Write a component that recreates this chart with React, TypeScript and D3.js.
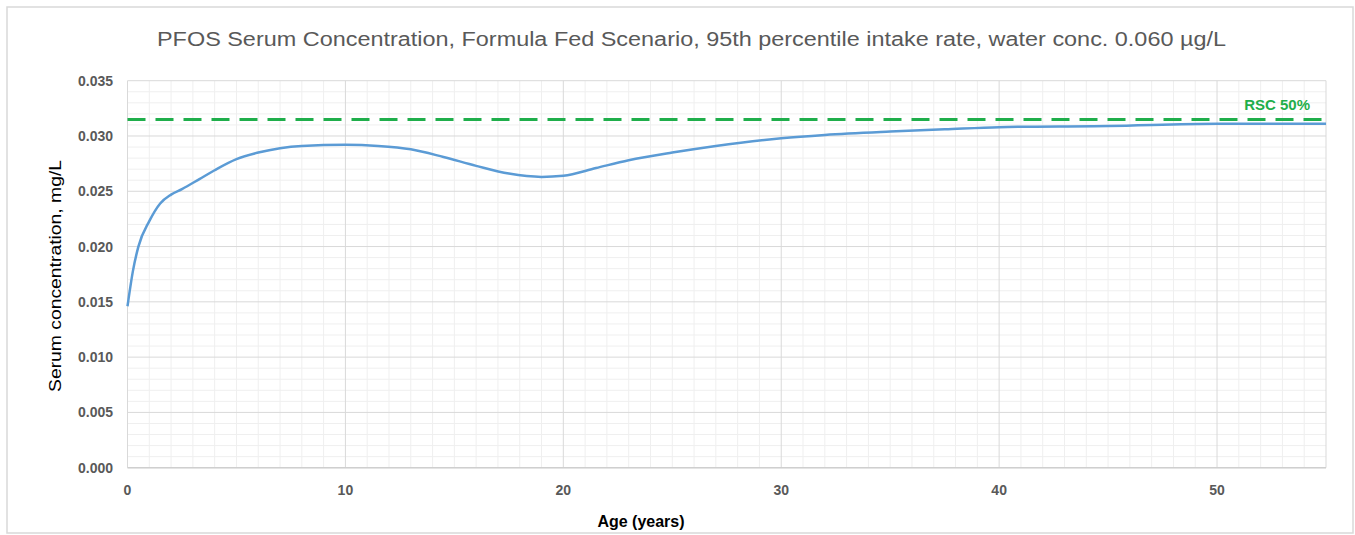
import React, { Component } from 'react';
import * as d3 from 'd3';

// serum curve (age in years, mg/L)
const ages = [0, 0.25, 0.5, 1, 1.5, 2, 2.5, 3.3, 4, 5, 6, 7, 8, 10, 11.5, 13, 14.5, 16, 17.5, 19, 20, 21.5, 23, 25, 27, 30, 32, 35, 37.5, 40, 45, 50, 55];
const serumValues = [0.0146, 0.0178, 0.0200, 0.0223, 0.0239, 0.0247, 0.0252, 0.0261, 0.0269, 0.0279, 0.0285, 0.0289, 0.0291, 0.0292, 0.0291, 0.0288, 0.0281, 0.0273, 0.0266, 0.0263, 0.0264, 0.0271, 0.0278, 0.0285, 0.0291, 0.0298, 0.0301, 0.0304, 0.0306, 0.0308, 0.0309, 0.0311, 0.0311];

const xTicks = [0, 10, 20, 30, 40, 50];
const yTicks = [0, 0.005, 0.01, 0.015, 0.02, 0.025, 0.03, 0.035];
const rscLevel = 0.0315;
const rscLabel = 'RSC 50%';

const titleText = 'PFOS Serum Concentration, Formula Fed Scenario, 95th percentile intake rate, water conc. 0.060 \u00b5g/L';

class App extends Component {
  svgRef = React.createRef<SVGSVGElement>();

  componentDidMount() {
    this.draw();
  }

  draw = () => {
    const width = 1355, height = 535;
    const svg = d3.select(this.svgRef.current);
    svg.selectAll('*').remove();

    const x = d3.scaleLinear().domain([0, 55]).range([127.5, 1326]);
    const y = d3.scaleLinear().domain([0, 0.035]).range([467.7, 80.7]);

    const font = '"Liberation Sans", Arial, sans-serif';

    svg.append('rect').attr('width', width).attr('height', height).attr('fill', '#fff');
    svg.append('rect')
      .attr('x', 7).attr('y', 7).attr('width', 1346).attr('height', 526)
      .attr('fill', 'none').attr('stroke', '#d9d9d9').attr('stroke-width', 1.5);

    // minor grid
    const minorX = d3.range(1, 55).filter((d) => d % 10 !== 0);
    const minorY = d3.range(1, 35).filter((d) => d % 5 !== 0).map((d) => d / 1000);
    const grid = svg.append('g');
    grid.selectAll('line.mx').data(minorX).enter().append('line')
      .attr('x1', (d) => x(d)).attr('x2', (d) => x(d))
      .attr('y1', y(0)).attr('y2', y(0.035))
      .attr('stroke', '#efefef').attr('stroke-width', 1);
    grid.selectAll('line.my').data(minorY).enter().append('line')
      .attr('x1', x(0)).attr('x2', x(55))
      .attr('y1', (d) => y(d)).attr('y2', (d) => y(d))
      .attr('stroke', '#efefef').attr('stroke-width', 1);

    // major grid
    grid.selectAll('line.MX').data(xTicks.concat([55])).enter().append('line')
      .attr('x1', (d) => x(d)).attr('x2', (d) => x(d))
      .attr('y1', y(0)).attr('y2', y(0.035))
      .attr('stroke', '#d9d9d9').attr('stroke-width', 1);
    grid.selectAll('line.MY').data(yTicks).enter().append('line')
      .attr('x1', x(0)).attr('x2', x(55))
      .attr('y1', (d) => y(d)).attr('y2', (d) => y(d))
      .attr('stroke', '#d9d9d9').attr('stroke-width', 1);

    // x axis line
    svg.append('line')
      .attr('x1', x(0)).attr('x2', x(55)).attr('y1', y(0)).attr('y2', y(0))
      .attr('stroke', '#cfcfcf').attr('stroke-width', 1.5);

    // tick labels
    svg.selectAll('text.yt').data(yTicks).enter().append('text')
      .attr('x', 113).attr('y', (d) => y(d) + 5)
      .attr('text-anchor', 'end')
      .attr('font-family', font).attr('font-size', 14).attr('font-weight', 'bold')
      .attr('fill', '#595959')
      .text((d) => d3.format('.3f')(d));
    svg.selectAll('text.xt').data(xTicks).enter().append('text')
      .attr('x', (d) => x(d)).attr('y', 495)
      .attr('text-anchor', 'middle')
      .attr('font-family', font).attr('font-size', 14).attr('font-weight', 'bold')
      .attr('fill', '#595959')
      .text((d) => String(d));

    // RSC line
    svg.append('line')
      .attr('x1', x(0)).attr('x2', x(55) + 2)
      .attr('y1', y(rscLevel)).attr('y2', y(rscLevel))
      .attr('stroke', '#1fae4b').attr('stroke-width', 3)
      .attr('stroke-dasharray', '18,10');
    svg.append('text')
      .attr('x', 1310).attr('y', 110)
      .attr('text-anchor', 'end')
      .attr('font-family', font).attr('font-size', 15).attr('font-weight', 'bold')
      .attr('fill', '#1fae4b')
      .text(rscLabel);

    // serum curve
    const line = d3.line<number>()
      .x((d, i) => x(ages[i]))
      .y((d) => y(d))
      .curve(d3.curveMonotoneX);
    svg.append('path')
      .datum(serumValues)
      .attr('d', line)
      .attr('fill', 'none')
      .attr('stroke', '#5b9bd5')
      .attr('stroke-width', 2.5);

    // titles
    svg.append('text')
      .attr('x', 691.5).attr('y', 46)
      .attr('text-anchor', 'middle')
      .attr('font-family', font).attr('font-size', 20)
      .attr('fill', '#595959')
      .attr('textLength', 1069).attr('lengthAdjust', 'spacingAndGlyphs')
      .text(titleText);
    svg.append('text')
      .attr('x', 641).attr('y', 527)
      .attr('text-anchor', 'middle')
      .attr('font-family', font).attr('font-size', 16).attr('font-weight', 'bold')
      .attr('fill', '#000')
      .text('Age (years)');
    svg.append('text')
      .attr('transform', 'translate(61, 276) rotate(-90)')
      .attr('text-anchor', 'middle')
      .attr('font-family', font).attr('font-size', 17)
      .attr('fill', '#000')
      .attr('textLength', 232).attr('lengthAdjust', 'spacingAndGlyphs')
      .text('Serum concentration, mg/L');
  }

  render() {
    return (
      <svg ref={this.svgRef} width={1355} height={535}
        style={{ position: 'absolute', left: 0, top: 0, display: 'block' }} />
    );
  }
}

export default App;
